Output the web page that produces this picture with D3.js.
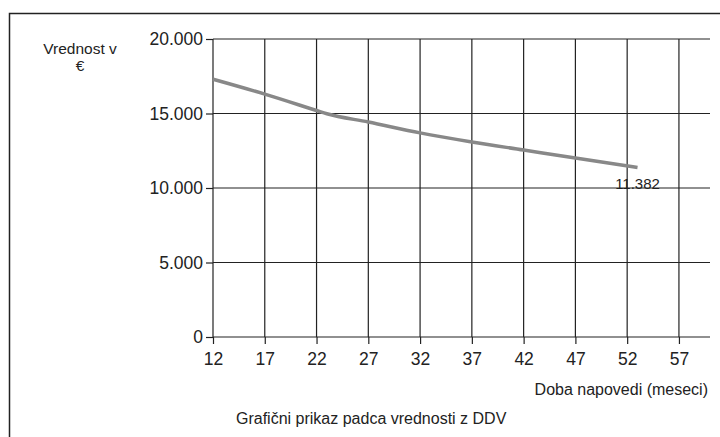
<!DOCTYPE html>
<html><head><meta charset="utf-8">
<script src="https://cdn.jsdelivr.net/npm/d3@7"></script>
<style>body{margin:0;background:#fff;} svg{display:block;font-family:"Liberation Sans",Arial,sans-serif;}</style>
</head><body>
<svg id="c" width="720" height="437"></svg>
<script>
const months = [12, 17, 22, 23, 27, 32, 37, 42, 47, 53];
const values = [17300, 16300, 15200, 14980, 14430, 13700, 13090, 12550, 12010, 11382];
const xTicks = [12, 17, 22, 27, 32, 37, 42, 47, 52, 57];
const yTicks = [0, 5000, 10000, 15000, 20000];
const yTitle = ["Vrednost v", "€"];
const xTitle = "Doba napovedi (meseci)";
const chartTitle = "Grafični prikaz padca vrednosti z DDV";
const lastLabel = "11.382";

const svg = d3.select("#c");
const x = d3.scaleLinear().domain([12, 60]).range([213, 710]);
const y = d3.scaleLinear().domain([0, 20000]).range([337, 39]);
const fmt = v => d3.format(",")(v).replace(/,/g, ".");

// outer border
svg.append("rect").attr("x", 9.5).attr("y", 13.5).attr("width", 730).attr("height", 450)
  .attr("fill", "none").attr("stroke", "#222").attr("stroke-width", 1.5);

// grid
svg.append("g").selectAll("line").data(xTicks).join("line")
  .attr("x1", d => x(d)).attr("x2", d => x(d)).attr("y1", y(20000)).attr("y2", y(0))
  .attr("stroke", "#222").attr("stroke-width", 1.2);
svg.append("g").selectAll("line").data(yTicks).join("line")
  .attr("x1", x(12)).attr("x2", x(60)).attr("y1", d => y(d)).attr("y2", d => y(d))
  .attr("stroke", "#222").attr("stroke-width", 1.2);

// axes
const ya = svg.append("g").attr("transform", `translate(${x(12)},0)`)
  .call(d3.axisLeft(y).tickValues(yTicks).tickFormat(fmt).tickSize(7).tickPadding(3));
const xa = svg.append("g").attr("transform", `translate(0,${y(0)})`)
  .call(d3.axisBottom(x).tickValues(xTicks).tickSize(7).tickPadding(9));
[ya, xa].forEach(a => {
  a.select(".domain").remove();
  a.selectAll("line").attr("stroke", "#222").attr("stroke-width", 1.2);
  a.selectAll("text").attr("font-size", 17.5).attr("fill", "#222").attr("font-family", "Liberation Sans, Arial, sans-serif");
});

// line
const data = months.map((m, i) => ({m, v: values[i]}));
svg.append("path").datum(data)
  .attr("d", d3.line().x(d => x(d.m)).y(d => y(d.v)).curve(d3.curveMonotoneX))
  .attr("fill", "none").attr("stroke", "#888").attr("stroke-width", 3.5);

// last label
const last = data[data.length - 1];
svg.append("text").attr("x", x(last.m)).attr("y", y(last.v) + 22)
  .attr("text-anchor", "middle").attr("font-size", 15).attr("fill", "#222").text(lastLabel);

// y title
svg.append("text").attr("text-anchor", "middle")
  .attr("font-size", 15.5).attr("fill", "#222")
  .selectAll("tspan").data(yTitle).join("tspan")
  .attr("x", 80).attr("y", (d, i) => i ? 71 : 54).text(d => d);

// x title
svg.append("text").attr("x", 708).attr("y", 395).attr("text-anchor", "end")
  .attr("font-size", 16).attr("fill", "#222").text(xTitle);

// chart title
svg.append("text").attr("x", 236).attr("y", 424).attr("font-size", 16)
  .attr("fill", "#222").text(chartTitle);
</script>
</body></html>
